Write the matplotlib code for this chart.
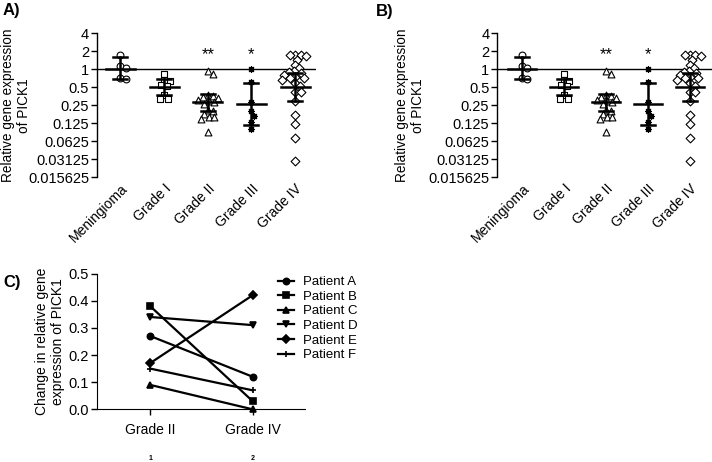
import numpy as np
import matplotlib
matplotlib.use("Agg")
import matplotlib.pyplot as plt
from matplotlib.ticker import FixedLocator, FixedFormatter, NullLocator

plt.rcParams["font.family"] = ["Liberation Sans", "DejaVu Sans"]

# Data (panels A and B show the same data)
groups = ["Meningioma", "Grade I", "Grade II", "Grade III", "Grade IV"]
meningioma = [1.73, 1.14, 1.06, 0.71, 0.70]
grade_1 = [0.84, 0.66, 0.64, 0.55, 0.53, 0.37, 0.32, 0.32]
grade_2 = [0.92, 0.84, 0.37, 0.36, 0.34, 0.33, 0.31, 0.30, 0.28, 0.26,
           0.21, 0.20, 0.18, 0.16, 0.16, 0.15, 0.09]
grade_3 = [1.0, 0.62, 0.28, 0.20, 0.166, 0.13, 0.10]
grade_4 = [1.75, 1.74, 1.72, 1.69, 1.43, 1.18, 1.04, 0.95, 0.91, 0.86, 0.80,
           0.75, 0.71, 0.71, 0.66, 0.58, 0.53, 0.42, 0.42, 0.30, 0.17, 0.12,
           0.07, 0.029]
centre = [1.0, 0.5, 0.28, 0.26, 0.5]
err_low = [0.70, 0.37, 0.20, 0.116, 0.29]
err_high = [1.62, 0.70, 0.38, 0.58, 0.86]
sig = ["", "", "**", "*", ""]
yticks = [4, 2, 1, 0.5, 0.25, 0.125, 0.0625, 0.03125, 0.015625]
ytick_labels = ["4", "2", "1", "0.5", "0.25", "0.125", "0.0625", "0.03125", "0.015625"]

# Panel C
stages = ["Grade II", "Grade IV"]
patients = ["Patient A", "Patient B", "Patient C", "Patient D", "Patient E", "Patient F"]
grade_2_change = [0.27, 0.38, 0.09, 0.34, 0.17, 0.15]
grade_4_change = [0.12, 0.03, 0.00, 0.31, 0.42, 0.07]

series = [meningioma, grade_1, grade_2, grade_3, grade_4]


def swarm(vals, d=5.5, ypx=18.0, xpx=43.6):
    # simple beeswarm in pixel space, returns offsets in category units
    y = np.log2(vals) * ypx
    xs = np.zeros(len(vals))
    placed = []
    for i in np.argsort(-y, kind="stable"):
        cands = [0.0]
        for px, py in placed:
            dy = abs(y[i] - py)
            if dy < d:
                dx = np.sqrt(d * d - dy * dy)
                cands += [px + dx, px - dx]
        cands.sort(key=abs)
        for c in cands:
            if all((c - px) ** 2 + (y[i] - py) ** 2 >= d * d - 1e-6 for px, py in placed):
                xs[i] = c
                break
        placed.append((xs[i], y[i]))
    return xs / xpx


markers = [
    dict(marker="o", s=24, facecolors="white", edgecolors="black", linewidths=0.8),
    dict(marker="s", s=22, facecolors="white", edgecolors="black", linewidths=0.8),
    dict(marker="^", s=24, facecolors="white", edgecolors="black", linewidths=0.8),
    dict(marker=(8, 2, 0), s=18, color="black", linewidths=0.9),
    dict(marker="D", s=20, facecolors="white", edgecolors="black", linewidths=0.8),
]


def scatter_panel(ax, xlim, label_x):
    for k, vals in enumerate(series):
        off = swarm(vals)
        ax.scatter(k + off, vals, zorder=3, **markers[k])
        ax.plot([k - 0.33, k + 0.33], [centre[k]] * 2, color="black", lw=1.8, zorder=4)
        ax.plot([k, k], [err_low[k], err_high[k]], color="black", lw=1.8, zorder=4)
        for v in (err_low[k], err_high[k]):
            ax.plot([k - 0.16, k + 0.16], [v, v], color="black", lw=1.8, zorder=4)
        if sig[k]:
            ax.text(k, 1.75, sig[k], ha="center", va="center", fontsize=12)
    ax.axhline(1, color="black", lw=1.0, zorder=2)
    ax.set_yscale("log", base=2)
    ax.set_ylim(0.015625, 4)
    ax.yaxis.set_major_locator(FixedLocator(yticks))
    ax.yaxis.set_major_formatter(FixedFormatter(ytick_labels))
    ax.yaxis.set_minor_locator(NullLocator())
    ax.set_xlim(*xlim)
    ax.set_xticks(range(len(groups)))
    ax.set_xticklabels(groups, rotation=45, ha="right", rotation_mode="anchor", fontsize=10)
    ax.tick_params(axis="x", length=0, pad=3)
    ax.tick_params(axis="y", length=4, width=1, labelsize=10.5, pad=1.5)
    for s in ("top", "right", "bottom"):
        ax.spines[s].set_visible(False)
    ax.spines["left"].set_linewidth(1.0)
    ax.set_ylabel("Relative gene expression\nof PICK1", fontsize=9.8)
    ax.yaxis.set_label_coords(label_x, 0.5)


fig = plt.figure(figsize=(7.12, 4.62), dpi=100)

ax_a = fig.add_axes([0.136, 0.616, 0.308, 0.312])
scatter_panel(ax_a, (-0.54, 4.48), -0.30)
ax_b = fig.add_axes([0.698, 0.616, 0.302, 0.312])
scatter_panel(ax_b, (-0.6, 4.52), -0.335)

ax_c = fig.add_axes([0.136, 0.114, 0.293, 0.294])
c_markers = ["o", "s", "^", "v", "D", "+"]
xpos = np.arange(1, len(stages) + 1)
for i, name in enumerate(patients):
    ax_c.plot(xpos, [grade_2_change[i], grade_4_change[i]], color="black", lw=1.6,
              marker=c_markers[i], markersize=4.5, mew=1.2, label=name, clip_on=False)
ax_c.set_xlim(0.48, 2.515)
ax_c.set_ylim(0, 0.5)
ax_c.set_yticks([0.0, 0.1, 0.2, 0.3, 0.4, 0.5])
ax_c.set_yticklabels(["0.0", "0.1", "0.2", "0.3", "0.4", "0.5"])
ax_c.set_xticks(xpos)
ax_c.set_xticklabels(stages)
ax_c.tick_params(length=4, width=1, labelsize=10.5, pad=2)
ax_c.tick_params(axis="x", labelsize=10, pad=6)
for s in ("top", "right"):
    ax_c.spines[s].set_visible(False)
ax_c.set_ylabel("Change in relative gene\nexpression of PICK1", fontsize=10, labelpad=2)
for x, lab in zip(xpos, ["1", "2"]):
    ax_c.text(x, -0.36, lab, ha="center", va="center", fontsize=5, fontweight="bold",
              transform=ax_c.get_xaxis_transform())
ax_c.legend(loc="upper left", bbox_to_anchor=(278 / 712, 1 - 276 / 462),
            bbox_transform=fig.transFigure, frameon=False, fontsize=9.5,
            handlelength=1.2, handletextpad=0.7, labelspacing=0.18,
            borderpad=0, borderaxespad=0)

fig.text(3 / 712, 1 - 3 / 462, "A)", fontsize=12, fontweight="bold", va="top")
fig.text(376 / 712, 1 - 4 / 462, "B)", fontsize=12, fontweight="bold", va="top")
fig.text(3 / 712, 1 - 275 / 462, "C)", fontsize=12, fontweight="bold", va="top")

fig.savefig("out.png", dpi=100)
